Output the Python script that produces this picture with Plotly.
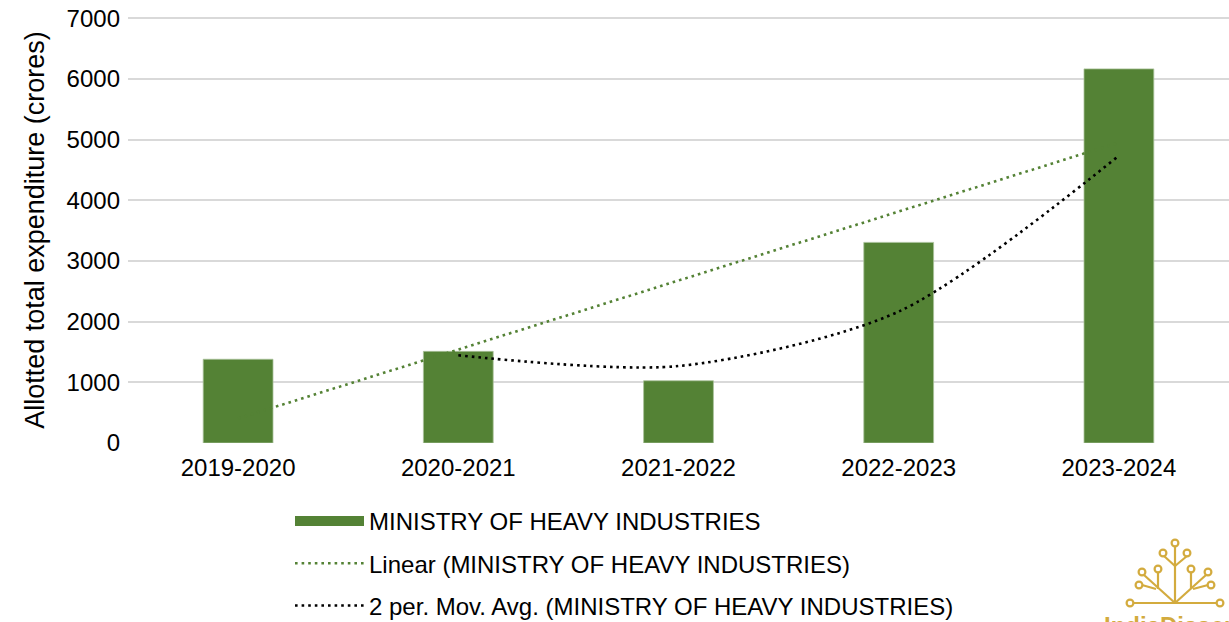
import numpy as np
import plotly.graph_objects as go

years = ["2019-2020", "2020-2021", "2021-2022", "2022-2023", "2023-2024"]
values = [1380, 1510, 1026, 3306, 6165]
series_name = "MINISTRY OF HEAVY INDUSTRIES"
y_ticks = [0, 1000, 2000, 3000, 4000, 5000, 6000, 7000]

# Excel-style trendlines derived from the data
idx = np.arange(1, len(values) + 1)
slope, intercept = np.polyfit(idx, values, 1)
linear = list(intercept + slope * idx)
mov_avg = [(values[i - 1] + values[i]) / 2 for i in range(1, len(values))]

GREEN = "#548235"
GOLD = "#d3ab3e"
FONT = "Liberation Sans, Arial, sans-serif"

W, H = 1229, 622
ML, MR, MT, MB = 128, 0, 17, 179
PW, PH = W - ML - MR, H - MT - MB


def px(x):
    return (x - ML) / PW


def py(y):
    return (H - MB - y) / PH


fig = go.Figure()
fig.add_trace(go.Bar(
    x=years, y=values, name=series_name,
    marker=dict(color=GREEN, line=dict(color="#a9c19a", width=0.8)),
    showlegend=False, legendgroup="a",
))
# legend proxy (wide rectangle like Excel)
fig.add_trace(go.Scatter(
    x=[None], y=[None], mode="lines", name=series_name,
    line=dict(color=GREEN, width=12), legendgroup="a", showlegend=True,
))
fig.add_trace(go.Scatter(
    x=years, y=linear, mode="lines", name="Linear (" + series_name + ")",
    line=dict(color=GREEN, width=2.6, dash="2.6px,4px"), legendgroup="b",
))
fig.add_trace(go.Scatter(
    x=years[1:], y=mov_avg, mode="lines", name="2 per. Mov. Avg. (" + series_name + ")",
    line=dict(color="black", width=2.6, dash="2.6px,4px", shape="spline", smoothing=0.8),
    legendgroup="c",
))

fig.update_layout(
    width=W, height=H,
    margin=dict(l=ML, r=MR, t=MT, b=MB, autoexpand=False),
    paper_bgcolor="white", plot_bgcolor="white",
    font=dict(family=FONT, size=24, color="black"),
    bargap=0.683,
    showlegend=True,
    legend=dict(
        x=px(290), y=py(499), xanchor="left", yanchor="top",
        orientation="v", traceorder="grouped", tracegroupgap=8,
        itemwidth=69, font=dict(family=FONT, size=24, color="black"),
        bgcolor="rgba(0,0,0,0)",
    ),
    xaxis=dict(
        type="category", showgrid=False, showline=False, ticks="", ticklabelstandoff=8,
        tickfont=dict(family=FONT, size=24, color="black"),
    ),
    yaxis=dict(
        range=[0, 7020], tickvals=y_ticks, showgrid=True, gridcolor="#d9d9d9", gridwidth=1.5,
        zeroline=False, showline=False, ticks="", ticklabelstandoff=7,
        tickfont=dict(family=FONT, size=24, color="black"),
        title=dict(text="Allotted total expenditure (crores)", standoff=14,
                   font=dict(family=FONT, size=27, color="black")),
    ),
)

# decorative logo (tree) in the bottom-right corner
shape_style = dict(xref="paper", yref="paper", line=dict(color=GOLD, width=2.2), layer="above")
segments = [
    ((1132, 603), (1217, 603)),   # base
    ((1175, 546), (1175, 603)),   # trunk
    ((1164, 556), (1175, 566)),
    ((1187, 556), (1175, 566)),
    ((1175, 603), (1144, 575)),   # left diagonal
    ((1158, 572), (1158, 589)),
    ((1142, 585), (1156, 589)),
    ((1175, 603), (1206, 575)),   # right diagonal
    ((1191, 572), (1191, 589)),
    ((1208, 585), (1193, 589)),
]
for (x0, y0), (x1, y1) in segments:
    fig.add_shape(type="line", x0=px(x0), y0=py(y0), x1=px(x1), y1=py(y1), **shape_style)
circles = [(1175, 543), (1163, 553), (1187, 553), (1142, 572), (1158, 569), (1139, 585),
           (1208, 572), (1191, 569), (1211, 585), (1130, 603), (1220, 603)]
r = 3.4
for cx, cy in circles:
    fig.add_shape(type="circle", x0=px(cx - r), y0=py(cy + r), x1=px(cx + r), y1=py(cy - r),
                  fillcolor="white", **shape_style)

fig.add_annotation(
    xref="paper", yref="paper", x=px(1175), y=py(610), xanchor="center", yanchor="top",
    text="<b>IndiaDissent</b>", showarrow=False,
    font=dict(family=FONT, size=24, color=GOLD),
)

fig.write_html("out.html", config={"displayModeBar": False},
               post_script="document.body.style.margin='0';")
